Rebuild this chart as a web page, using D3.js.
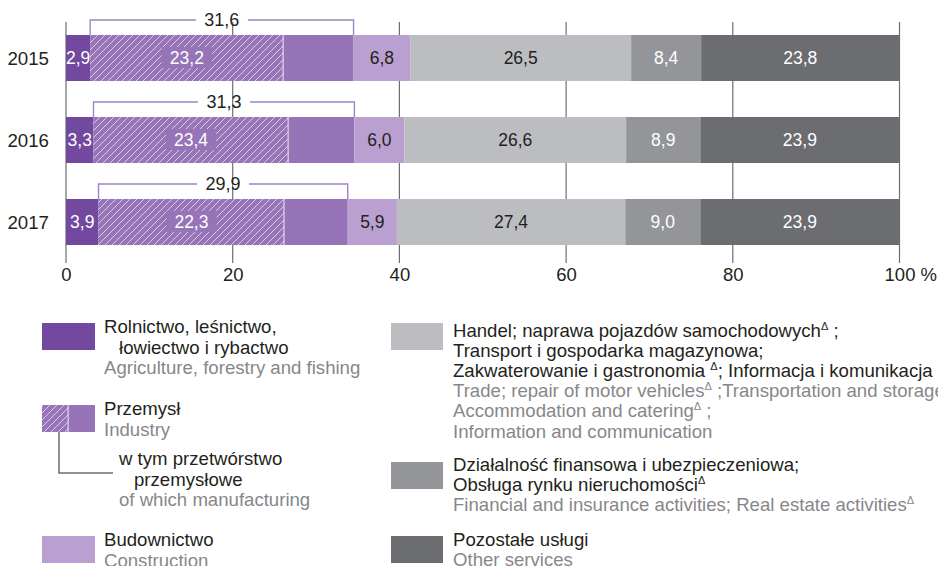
<!DOCTYPE html>
<html>
<head>
<meta charset="utf-8">
<script src="https://cdn.jsdelivr.net/npm/d3@7/dist/d3.min.js"></script>
<style>
  html, body { margin: 0; padding: 0; background: #ffffff; }
  svg { display: block; font-family: "Liberation Sans", Arial, Helvetica, sans-serif; }
</style>
</head>
<body>
<svg id="chart" width="938" height="566"></svg>
<script>
// ---------- DATA ----------
const years = ["2015", "2016", "2017"];
const agriculture   = [2.9, 3.3, 3.9];
const manufacturing = [23.2, 23.4, 22.3];
const industry      = [31.6, 31.3, 29.9];
const construction  = [6.8, 6.0, 5.9];
const trade         = [26.5, 26.6, 27.4];
const finance       = [8.4, 8.9, 9.0];
const otherServices = [23.8, 23.9, 23.9];
const xTicks = [0, 20, 40, 60, 80, 100];

// legend texts ("^" marks a superscript triangle)
const legendLeft = [
  { key: "agri", lines: [["Rolnictwo, leśnictwo,", 0, "d"], ["łowiectwo i rybactwo", 15, "d"], ["Agriculture, forestry and fishing", 0, "g"]] },
  { key: "ind",  lines: [["Przemysł", 0, "d"], ["Industry", 0, "g"]] },
  { key: "manuf", lines: [["w tym przetwórstwo", 0, "d"], ["przemysłowe", 15, "d"], ["of which manufacturing", 0, "g"]] },
  { key: "cons", lines: [["Budownictwo", 0, "d"], ["Construction", 0, "g"]] }
];
const legendRight = [
  { key: "trade", lines: [["Handel; naprawa pojazdów samochodowych^ ;", 0, "d"], ["Transport i gospodarka magazynowa;", 0, "d"], ["Zakwaterowanie i gastronomia ^; Informacja i komunikacja", 0, "d"], ["Trade; repair of motor vehicles^ ;Transportation and storage", 0, "g"], ["Accommodation and catering^ ;", 0, "g"], ["Information and communication", 0, "g"]] },
  { key: "fin", lines: [["Działalność finansowa i ubezpieczeniowa;", 0, "d"], ["Obsługa rynku nieruchomości^", 0, "d"], ["Financial and insurance activities; Real estate activities^", 0, "g"]] },
  { key: "other", lines: [["Pozostałe usługi", 0, "d"], ["Other services", 0, "g"]] }
];

// ---------- STYLE ----------
const colors = {
  agri: "#7349a0", manuf: "#9674b7", ind: "#9674b7", cons: "#b9a0d0",
  trade: "#bcbdc1", fin: "#939599", other: "#6c6d71"
};
const labelColor = { agri: "#fff", manuf: "#fff", cons: "#231f20", trade: "#231f20", fin: "#fff", other: "#fff" };
const darkText = "#231f20", grayText = "#86878a";
const FF = "Liberation Sans, Arial, sans-serif";

const svg = d3.select("#chart");
const fmt = d3.formatLocale({ decimal: ",", thousands: " ", grouping: [3], currency: ["", ""] }).format(".1f");

// pattern for manufacturing
const defs = svg.append("defs");
const pat = defs.append("pattern").attr("id", "hatch").attr("patternUnits", "userSpaceOnUse")
  .attr("width", 7).attr("height", 7);
pat.append("rect").attr("width", 7).attr("height", 7).attr("fill", colors.manuf);
pat.append("path").attr("d", "M-1,8 L8,-1 M-1,1 L1,-1 M6,8 L8,6")
  .attr("stroke", "#ffffff").attr("stroke-opacity", 0.7).attr("stroke-width", 0.9);

// ---------- SCALES ----------
const x = d3.scaleLinear().domain([0, 100]).range([66, 899.5]);
const y = d3.scaleBand().domain(years).range([35, 245]).paddingInner(0.439).paddingOuter(0);

// ---------- GRID ----------
svg.append("g").selectAll("line.grid").data(xTicks).join("line").attr("class", "grid")
  .attr("x1", d => x(d)).attr("x2", d => x(d))
  .attr("y1", 22).attr("y2", 263)
  .attr("stroke", "#6d6e71").attr("stroke-width", 1.2);

// axis labels
const axis = d3.axisBottom(x).tickValues(xTicks).tickSize(0).tickPadding(0).tickFormat(d3.format("d"));
const ax = svg.append("g").attr("transform", "translate(0,268)").call(axis);
ax.select(".domain").remove();
ax.selectAll("text").attr("font-size", 18.5).attr("fill", darkText)
  .attr("font-family", FF).attr("dy", "0.71em");
ax.selectAll(".tick").filter(d => d === 100).each(function () {
  const t = d3.select(this).select("text");
  const w = t.node().getComputedTextLength();
  d3.select(this).append("text").text("%").attr("x", w / 2 + 5).attr("y", 0).attr("dy", "0.71em")
    .attr("font-size", 18.5).attr("fill", darkText).attr("text-anchor", "start")
    .attr("font-family", FF);
});

// ---------- BARS ----------
const rows = years.map((yr, i) => {
  const parts = [
    { key: "agri", v: agriculture[i], label: true },
    { key: "manuf", v: manufacturing[i], label: true },
    { key: "ind", v: +(industry[i] - manufacturing[i]).toFixed(1), label: false },
    { key: "cons", v: construction[i], label: true },
    { key: "trade", v: trade[i], label: true },
    { key: "fin", v: finance[i], label: true },
    { key: "other", v: otherServices[i], label: true }
  ];
  let acc = 0;
  parts.forEach(p => { p.x0 = acc; acc += p.v; p.x1 = acc; p.year = yr; });
  return { year: yr, parts, industryTotal: industry[i], indStart: agriculture[i] };
});

const bh = y.bandwidth();
const rowG = svg.selectAll("g.row").data(rows).join("g").attr("class", "row");

rowG.selectAll("rect.seg").data(d => d.parts).join("rect").attr("class", "seg")
  .attr("x", d => x(d.x0)).attr("width", d => x(d.x1) - x(d.x0))
  .attr("y", d => y(d.year)).attr("height", bh)
  .attr("fill", d => d.key === "manuf" ? "url(#hatch)" : colors[d.key]);

// thin light edge at right of hatched part
rowG.each(function (r) {
  const m = r.parts[1];
  d3.select(this).append("line")
    .attr("x1", x(m.x1) - 0.5).attr("x2", x(m.x1) - 0.5)
    .attr("y1", y(r.year)).attr("y2", y(r.year) + bh)
    .attr("stroke", "#fff").attr("stroke-opacity", 0.7).attr("stroke-width", 1);
});

// label backgrounds for manufacturing
rowG.each(function (r) {
  const m = r.parts[1];
  const cx = x((m.x0 + m.x1) / 2);
  d3.select(this).append("rect")
    .attr("x", cx - 25).attr("y", y(r.year) + bh / 2 - 11).attr("width", 50).attr("height", 21)
    .attr("fill", colors.manuf);
});

rowG.selectAll("text.val").data(d => d.parts.filter(p => p.label)).join("text").attr("class", "val")
  .attr("x", d => x((d.x0 + d.x1) / 2)).attr("y", d => y(d.year) + bh / 2)
  .attr("dy", "0.36em").attr("text-anchor", "middle")
  .attr("font-size", 17.5).attr("fill", d => labelColor[d.key])
  .text(d => fmt(d.v));

// year labels
svg.selectAll("text.year").data(years).join("text").attr("class", "year")
  .attr("x", 49).attr("y", d => y(d) + bh / 2).attr("dy", "0.36em")
  .attr("text-anchor", "end").attr("font-size", 18.7).attr("fill", darkText).text(d => d);

// brackets for industry totals
const bracketColor = "#a084c8";
rowG.each(function (r) {
  const sel = d3.select(this);
  const top = y(r.year);
  const by = top - 15;
  const xs = x(r.indStart), xe = x(r.indStart + r.industryTotal);
  const cx = (xs + xe) / 2;
  const gap = 26;
  const p = d3.path();
  p.moveTo(xs, top); p.lineTo(xs, by); p.lineTo(cx - gap, by);
  p.moveTo(cx + gap, by); p.lineTo(xe, by); p.lineTo(xe, top);
  sel.append("path").attr("d", p.toString()).attr("fill", "none")
    .attr("stroke", bracketColor).attr("stroke-width", 1.4);
  sel.append("text").attr("x", cx).attr("y", by).attr("dy", "0.36em")
    .attr("text-anchor", "middle").attr("font-size", 18).attr("fill", darkText)
    .text(fmt(r.industryTotal));
});

// ---------- LEGEND ----------
function writeLine(sel, str) {
  const parts = str.split("^");
  parts.forEach((s, i) => {
    if (i > 0) {
      sel.append("tspan").text("\u0394").attr("font-size", 11).attr("dy", -7);
      if (s !== "") sel.append("tspan").text(s).attr("dy", 7);
    } else {
      sel.append("tspan").text(s);
    }
  });
}
const leg = svg.append("g").attr("font-size", 18.6);
const lineH = 20.5;

// left column
const leftPos = { agri: { sq: 323, base: 333 }, ind: { sq: 405, base: 415 }, manuf: { sq: null, base: 465 }, cons: { sq: 536, base: 546 } };
legendLeft.forEach(item => {
  const pos = leftPos[item.key];
  if (item.key === "ind") {
    leg.append("rect").attr("x", 42).attr("y", pos.sq).attr("width", 26.5).attr("height", 27).attr("fill", "url(#hatch)");
    leg.append("rect").attr("x", 68.5).attr("y", pos.sq).attr("width", 26.5).attr("height", 27).attr("fill", colors.ind);
    leg.append("line").attr("x1", 68).attr("x2", 68).attr("y1", pos.sq).attr("y2", pos.sq + 27)
      .attr("stroke", "#fff").attr("stroke-opacity", 0.7);
    leg.append("path").attr("d", `M59,${pos.sq + 27}V473H113`).attr("fill", "none")
      .attr("stroke", "#6d6e71").attr("stroke-width", 1.5);
  } else if (pos.sq !== null) {
    leg.append("rect").attr("x", 42).attr("y", pos.sq).attr("width", 53).attr("height", 27).attr("fill", colors[item.key]);
  }
  const baseX = item.key === "manuf" ? 119 : 104;
  item.lines.forEach((ln, i) => {
    const t = leg.append("text").attr("x", baseX + ln[1]).attr("y", pos.base + i * lineH)
      .attr("fill", ln[2] === "d" ? darkText : grayText);
    writeLine(t, ln[0]);
  });
});

// right column
const rightPos = { trade: { sq: 323, base: 336.5 }, fin: { sq: 462, base: 470.5 }, other: { sq: 536, base: 546 } };
legendRight.forEach(item => {
  const pos = rightPos[item.key];
  leg.append("rect").attr("x", 391).attr("y", pos.sq).attr("width", 52).attr("height", 27).attr("fill", colors[item.key]);
  item.lines.forEach((ln, i) => {
    const t = leg.append("text").attr("x", 453 + ln[1]).attr("y", pos.base + i * 20.2)
      .attr("fill", ln[2] === "d" ? darkText : grayText);
    writeLine(t, ln[0]);
  });
});
</script>
</body>
</html>
